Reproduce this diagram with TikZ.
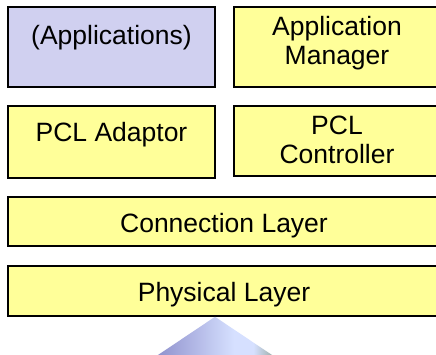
\documentclass[tikz,border=0pt]{standalone}
\usepackage{fontspec}
\setmainfont{Liberation Sans}
\usetikzlibrary{calc}

\definecolor{layeryellow}{HTML}{FFFF99}
\definecolor{applav}{HTML}{D0D0F0}
\definecolor{arrowdark}{HTML}{8E90CC}
\definecolor{arrowlight}{HTML}{D6E0FF}
\definecolor{arrowgrey}{HTML}{98AAA2}

% dark on the left, brightest a little right of centre, greyish at the right end
\pgfdeclarehorizontalshading{pointershade}{100bp}{
  color(0bp)=(arrowdark); color(25bp)=(arrowdark);
  color(58bp)=(arrowlight); color(66bp)=(arrowlight);
  color(75bp)=(arrowgrey); color(100bp)=(arrowgrey)}

\tikzset{
  layerbox/.style={draw=black, line width=1.6pt, fill=layeryellow},
  appbox/.style={layerbox, fill=applav},
  caption/.style={inner sep=0pt, anchor=base, align=center,
    font=\fontsize{26.5}{29.5}\selectfont},
}

\begin{document}
\begin{tikzpicture}[x=1pt, y=-1pt]
  \clip (0,0) rectangle (436,355);
  \fill[white] (0,0) rectangle (436,355);

  % upper row: applications and their manager
  \draw[appbox]   (8,7)   rectangle (215,87);
  \coordinate (app) at (111.5,7);
  \draw[layerbox] (234,7) rectangle (440,87);
  \coordinate (mgr) at (337,7);

  % middle row: PCL adaptor and controller
  \draw[layerbox] (8,106)   rectangle (215,178);
  \coordinate (adp) at (111.5,106);
  \draw[layerbox] (234,106) rectangle (440,176);
  \coordinate (ctl) at (337,106);

  % full-width layers
  \draw[layerbox] (8,197) rectangle (440,246);
  \coordinate (conn) at (224,197);
  \draw[layerbox] (8,266) rectangle (440,316);
  \coordinate (phys) at (224,266);

  % box captions, set on the baseline of their last line
  \node[caption] (tApp)  at ($(app)+(0,38)$)    {(Applications)};
  \node[caption] (tMgr)  at ($(mgr)+(0,58)$)    {Application\\Manager};
  \node[caption] (tAdp)  at ($(adp)+(0,36)$)    {PCL Adaptor};
  \node[caption] (tCtl)  at ($(ctl)+(0,58)$)    {PCL\\Controller};
  \node[caption] (tConn) at ($(conn)+(0,35.5)$) {Connection Layer};
  \node[caption] (tPhys) at ($(phys)+(0,35)$)   {Physical Layer};

  % shaded pointer rising into the physical layer
  \coordinate (apex) at (215,316.8);
  \shade[shading=pointershade]
    (apex) -- (155,357) -- (275,357) -- cycle;
\end{tikzpicture}
\end{document}
